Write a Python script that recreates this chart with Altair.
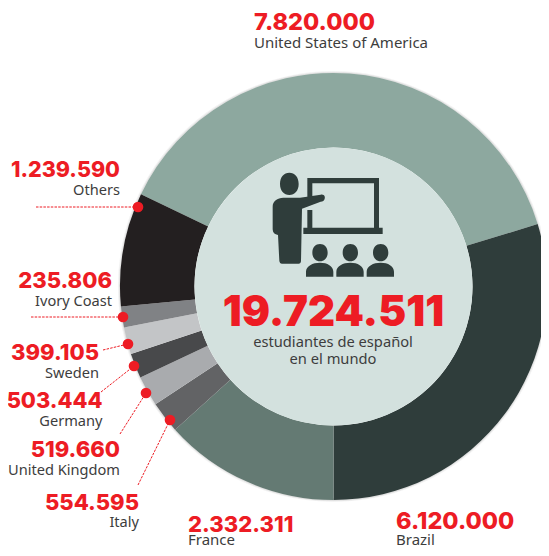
import math
import altair as alt
import pandas as pd

# Slices, clockwise from the top of the ring
countries = ["United States of America", "Brazil", "France", "Italy", "United Kingdom",
             "Germany", "Sweden", "Ivory Coast", "Others"]
students = ["7.820.000", "6.120.000", "2.332.311", "554.595", "519.660",
            "503.444", "399.105", "235.806", "1.239.590"]
# Arc widths as drawn in the picture (degrees); the picture is not strictly to scale
drawn_degrees = [137.4, 107.0, 47.9, 8.6, 8.3, 6.8, 7.3, 5.7, 31.0]
slice_colors = ["#8da89f", "#2f3d3b", "#647a73", "#626365", "#a9abae",
                "#48494b", "#c3c5c7", "#808285", "#231f20"]

total_label = "19.724.511"
center_lines = ["estudiantes de español", "en el mundo"]

OX, OY = 8, 8            # page margin
W, H = 533, 540
CX, CY = 333.5, 286.5    # ring centre, page px
R_OUT, R_IN = 213.5, 139
START = math.radians(-64.4)
RED, INK, DARK = "#ed1c24", "#3d3d3d", "#2f3d3b"

# label anchors: align, x, number baseline, name baseline, number size, name size (page px)
label_layout = {
    "United States of America": ("left", 254, 30, 48, 23.5, 15),
    "Brazil": ("left", 396, 529, 545, 23.5, 15),
    "France": ("left", 188, 532, 545, 22, 15),
    "Italy": ("right", 139, 510, 527, 22, 14.6),
    "United Kingdom": ("right", 120, 457, 475, 22, 14.6),
    "Germany": ("right", 102.5, 408, 426, 21.8, 14.6),
    "Sweden": ("right", 99, 360, 378, 22, 14.6),
    "Ivory Coast": ("right", 112, 288, 306, 22, 14.6),
    "Others": ("right", 120, 177, 195, 21.5, 14.6),
}
# leader: line end x,y -> dot x,y (page px)
leaders = [
    (36, 207, 138, 207), (31, 317, 123, 317), (103, 350, 128, 344),
    (101, 392, 134, 366), (120, 434, 146, 393), (138, 485, 170, 420),
]

px = alt.Scale(domain=[OX, OX + W], range=[0, W])
py = alt.Scale(domain=[OY, OY + H], range=[0, H])
dummy = pd.DataFrame({"a": [0]})


def halo(r, op):
    return alt.Chart(dummy).mark_arc(
        radius=r, radius2=R_OUT - 2, theta=0, theta2=2 * math.pi, color="#9a9a9a", opacity=op
    ).encode(x=alt.value(CX - OX), y=alt.value(CY - OY))


df = pd.DataFrame({"country": countries, "deg": drawn_degrees, "i": range(len(countries))})
ring = alt.Chart(df).mark_arc(radius=R_OUT, radius2=R_IN).encode(
    x=alt.value(CX - OX), y=alt.value(CY - OY),
    theta=alt.Theta("deg:Q", stack=True,
                    scale=alt.Scale(range=[START, START + 2 * math.pi])),
    order=alt.Order("i:Q"),
    color=alt.Color("country:N", legend=None,
                    scale=alt.Scale(domain=countries, range=slice_colors)),
)
disc = alt.Chart(dummy).mark_arc(
    radius=R_IN, radius2=0, theta=0, theta2=2 * math.pi, color="#d3e1de"
).encode(x=alt.value(CX - OX), y=alt.value(CY - OY))


def text_layer(rows, **kw):
    d = pd.DataFrame(rows, columns=["t", "x", "y"])
    return alt.Chart(d).mark_text(**kw).encode(
        text="t:N",
        x=alt.X("x:Q", scale=px, axis=None),
        y=alt.Y("y:Q", scale=py, axis=None),
    )


layers = [halo(R_OUT + 2, 0.12), halo(R_OUT + 1, 0.2), ring, disc]
for c, s in zip(countries, students):
    a, x, y1, y2, fs1, fs2 = label_layout[c]
    layers.append(text_layer([(s, x, y1)], align=a, font="Inter", fontWeight=800, fontSize=fs1,
                             color=RED, baseline="alphabetic"))
    layers.append(text_layer([(c, x, y2)], align=a, font="Noto Sans", fontSize=fs2,
                             color=INK, baseline="alphabetic"))

layers.append(text_layer([(total_label, 333.5, 325.7)], align="center", font="Inter",
                         fontWeight=900, fontSize=42, color=RED, baseline="alphabetic"))
layers.append(text_layer([(center_lines[0], 333, 347), (center_lines[1], 333, 364)],
                         align="center", font="Noto Sans", fontSize=14.7, color=INK,
                         baseline="alphabetic"))

# leader lines and dots
rule_df = pd.DataFrame(leaders, columns=["x1", "y1", "x2", "y2"])
layers.append(alt.Chart(rule_df).mark_rule(color=RED, strokeWidth=1, strokeDash=[2.5, 1.2]).encode(
    x=alt.X("x1:Q", scale=px, axis=None), y=alt.Y("y1:Q", scale=py, axis=None),
    x2="x2:Q", y2="y2:Q"))
layers.append(alt.Chart(rule_df).mark_point(filled=True, color=RED, opacity=1, size=113, shape="circle").encode(
    x=alt.X("x2:Q", scale=px, axis=None), y=alt.Y("y2:Q", scale=py, axis=None)))


# teacher icon, path units are 1/3 px around page (200,160)
def rect(x0, y0, x1, y1):
    return f"M{x0},{y0}L{x1},{y0}L{x1},{y1}L{x0},{y1}Z"


def pupil(dx):
    return (f"M{337+dx},278C{337+dx},262 {347+dx},252 {360+dx},252C{373+dx},252 {383+dx},262 {383+dx},278"
            f"C{383+dx},294 {373+dx},304 {360+dx},304C{347+dx},304 {337+dx},294 {337+dx},278Z"
            f"M{318+dx},350L{318+dx},335C{318+dx},318 {338+dx},308 {360+dx},308"
            f"C{382+dx},308 {400+dx},318 {400+dx},335L{400+dx},350Z")


icon = (
    "M240,72C240,50 252,38 268,38C284,38 296,50 296,72C296,92 284,105 268,105C252,105 240,92 240,72Z"
    "M218,140C218,122 232,115 250,113L300,113L362,104C372,103 376,108 374,116C373,122 368,124 362,125"
    "L306,146L303,303C303,308 300,311 296,311L246,311C241,311 239,308 238,303L234,225"
    "C224,224 218,218 218,208Z"
    + rect(322, 54, 537, 70) + rect(522, 54, 537, 205) + rect(322, 54, 337, 112)
    + rect(322, 150, 337, 205) + rect(310, 203, 548, 222)
    + pupil(0) + pupil(91) + pupil(182)
)
layers.append(alt.Chart(pd.DataFrame({"x": [200], "y": [160]})).mark_point(
    shape=icon, filled=True, color=DARK, opacity=1, size=4 / 9, strokeWidth=0
).encode(x=alt.X("x:Q", scale=px, axis=None), y=alt.Y("y:Q", scale=py, axis=None)))

chart = alt.layer(*layers).properties(
    width=W, height=H, padding=0,
    autosize=alt.AutoSizeParams(type="none"),
    background="white",
).configure_view(stroke=None)

chart.save("out.html", embed_options={"renderer": "svg", "actions": False})
